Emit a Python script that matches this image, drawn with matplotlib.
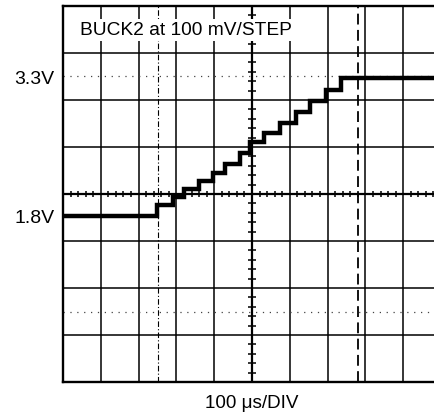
import numpy as np
import matplotlib
matplotlib.use("Agg")
from matplotlib import pyplot as plt

plt.rcParams['font.family'] = ['Liberation Sans', 'DejaVu Sans']

# scope settings
VDIV = 0.51        # volts per division
TDIV = 100         # us per division
n_xdiv, n_ydiv = 10, 8

# staircase (us, volts)
step_t = [0, 248, 291, 320, 361, 397, 429, 467, 495, 531, 573, 617, 654, 697, 736, 1000]
step_v = [1.80, 1.92, 2.01, 2.09, 2.18, 2.27, 2.37, 2.48, 2.60, 2.70, 2.81, 2.93, 3.05, 3.17, 3.30, 3.30]

ytick_vals = [1.8, 3.3]
ytick_labels = ["1.8V", "3.3V"]
cursor_v = [6.5 * VDIV, 1.5 * VDIV]   # dotted horizontal cursors
cursor_t1, cursor_t2 = 250, 780       # dash-dot / dashed vertical cursors

fig = plt.figure(figsize=(4.35, 4.15), dpi=100)
ax = fig.add_axes([63/435, 33/415, 378/435, 376/415])
ax.set_xlim(0, n_xdiv * TDIV)
ax.set_ylim(0, n_ydiv * VDIV)

# graticule
for k in range(1, n_xdiv):
    ax.axvline(k * TDIV, color='black', lw=1.6 if k == 5 else 1.1, zorder=1)
for k in range(1, n_ydiv):
    ax.axhline(k * VDIV, color='black', lw=1.6 if k == 4 else 1.1, zorder=1)

# minor ticks on the centre lines
xt = [t for t in np.arange(0, n_xdiv * TDIV + 1, TDIV / 5) if t % TDIV != 0]
ax.plot(xt, [4 * VDIV] * len(xt), ls='none', marker='|', ms=5, mew=1.1, color='black', zorder=2)
yt = [v * VDIV / 5 for v in range(0, n_ydiv * 5 + 1) if v % 5 != 0]
ax.plot([5 * TDIV] * len(yt), yt, ls='none', marker='_', ms=5.5, mew=1.1, color='black', zorder=2)

# cursors
for v in cursor_v:
    ax.axhline(v, color='#444444', lw=0.9, ls=(0, (1, 4.5)), zorder=1)
ax.axvline(cursor_t1, color='black', lw=0.8, ls=(0, (5, 2, 1, 2)), zorder=1)
ax.axvline(cursor_t2, color='black', lw=1.3, ls=(0, (6, 3)), zorder=1)

# trace
ax.step(step_t, step_v, where='post', color='black', lw=3.2, solid_joinstyle='miter', zorder=4)

ax.text(0.045, 0.936, "BUCK2 at 100 mV/STEP", transform=ax.transAxes, fontsize=13.8,
        ha='left', va='center', zorder=5,
        bbox=dict(boxstyle='square,pad=0.12', fc='white', ec='none'))

ax.set_xticks([])
ax.set_yticks(ytick_vals)
ax.set_yticklabels(ytick_labels, fontsize=14)
ax.tick_params(axis='y', length=0, pad=6)
ax.set_xlabel("100 μs/DIV", fontsize=13.6, labelpad=9)

for side in ['left', 'bottom', 'top']:
    ax.spines[side].set_linewidth(1.7)
ax.spines['right'].set_visible(False)

fig.savefig("out.png", dpi=100)
